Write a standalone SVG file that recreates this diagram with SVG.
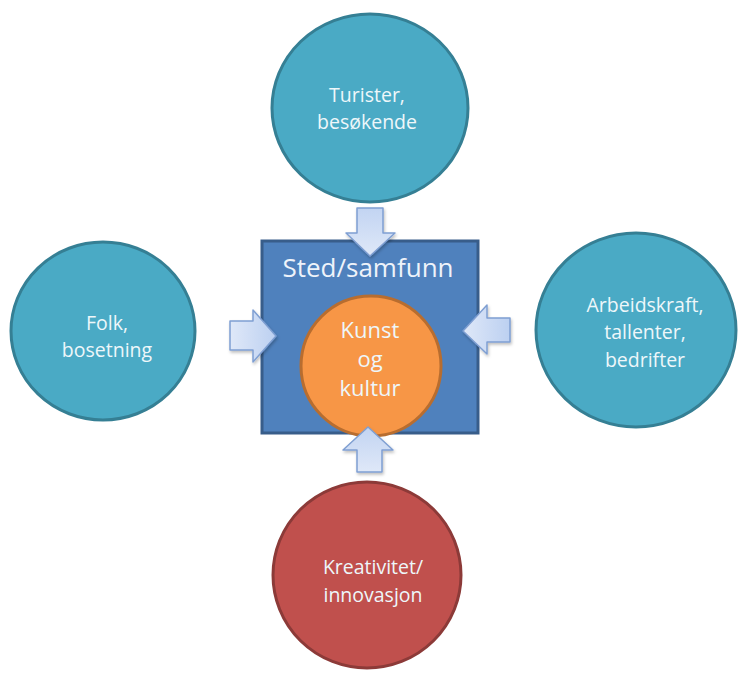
<svg xmlns="http://www.w3.org/2000/svg" width="738" height="673" viewBox="0 0 738 673">
<defs>
<linearGradient id="gv" x1="0" y1="0" x2="0" y2="1"><stop offset="0" stop-color="#c2d4f2"/><stop offset="1" stop-color="#dfe8f8"/></linearGradient>
<linearGradient id="gh" x1="0" y1="0" x2="1" y2="0"><stop offset="0" stop-color="#dfe8f8"/><stop offset="1" stop-color="#bcd0f1"/></linearGradient>
<filter id="sh" x="-20%" y="-20%" width="140%" height="140%"><feDropShadow dx="1" dy="2" stdDeviation="1.5" flood-color="#000" flood-opacity="0.25"/></filter>
<style>
.teal{fill:#4aaac5;stroke:#357f94;stroke-width:3}
.red{fill:#c0504d;stroke:#8c3a38;stroke-width:3}
.t{font-family:"Open Sans","Liberation Sans",sans-serif;font-size:19.5px;fill:#eef7fa;text-anchor:middle}
.arr{stroke:#7f9fd2;stroke-width:1.5;stroke-linejoin:round;filter:url(#sh)}
</style>
</defs>
<g id="turister"><ellipse class="teal" cx="370" cy="108" rx="98" ry="94"/><text class="t"><tspan x="367" y="102">Turister,</tspan><tspan x="367" y="129">besøkende</tspan></text></g>
<g id="folk"><ellipse class="teal" cx="103" cy="331" rx="92" ry="89"/><text class="t"><tspan x="107" y="330">Folk,</tspan><tspan x="107" y="357">bosetning</tspan></text></g>
<g id="arbeidskraft"><ellipse class="teal" cx="636" cy="330" rx="100" ry="97"/><text class="t"><tspan x="645" y="312">Arbeidskraft,</tspan><tspan x="645" y="339">tallenter,</tspan><tspan x="645" y="367">bedrifter</tspan></text></g>
<g id="kreativitet"><ellipse class="red" cx="367" cy="575" rx="94" ry="93"/><text class="t"><tspan x="373" y="574">Kreativitet/</tspan><tspan x="373" y="602">innovasjon</tspan></text></g>
<g id="sted"><rect x="262" y="241" width="216" height="192" fill="#4f81bd" stroke="#385d8a" stroke-width="3"/><text x="368" y="277" font-family="'Open Sans','Liberation Sans',sans-serif" font-size="26" fill="#eef3fa" text-anchor="middle">Sted/samfunn</text></g>
<g id="kunst"><circle cx="371" cy="366" r="70" fill="#f79646" stroke="#b86d2f" stroke-width="3"/><text class="t" style="font-size:22px"><tspan x="370" y="338">Kunst</tspan><tspan x="370" y="367">og</tspan><tspan x="370" y="396">kultur</tspan></text></g>
<g id="connectors">
<path class="arr" fill="url(#gv)" d="M357,208 H383 V233 H395 L370,256 L346,233 H357 Z"/>
<path class="arr" fill="url(#gh)" d="M230,321 H253 V310 L276,336 L253,362 V350 H230 Z"/>
<path class="arr" fill="url(#gh)" d="M510,318 H487 V305 L463,331 L487,354 V342 H510 Z"/>
<path class="arr" fill="url(#gv)" d="M357,472 H382 V450 H393 L368,427 L343,450 H357 Z"/>
</g>
</svg>
